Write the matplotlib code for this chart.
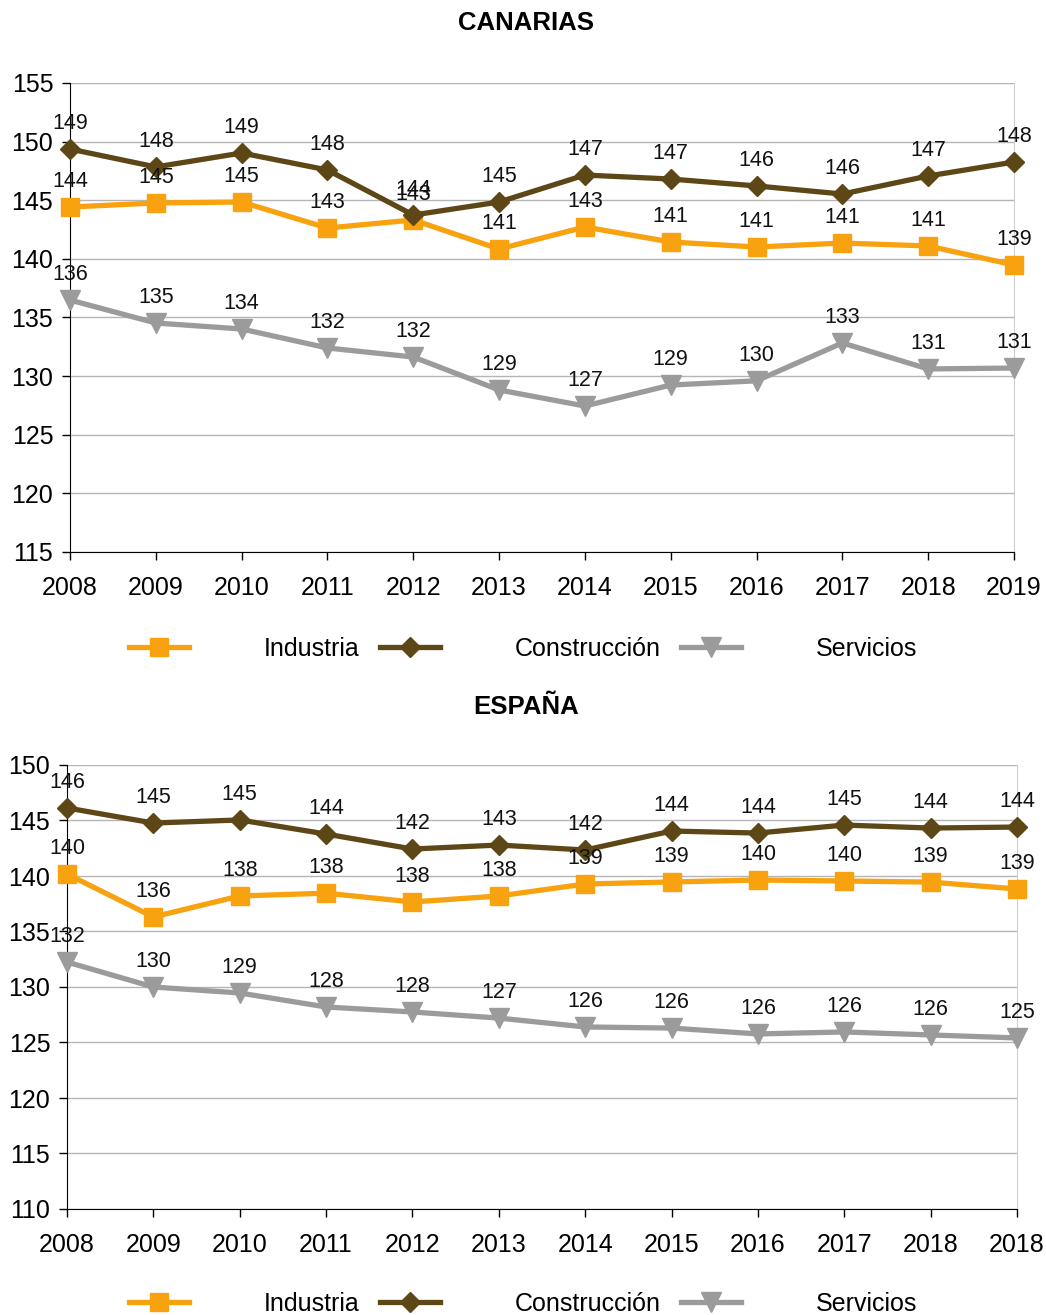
import numpy as np
import matplotlib
matplotlib.use("Agg")
import matplotlib.pyplot as plt

plt.rcParams['font.family'] = ['Liberation Sans', 'DejaVu Sans']

# datos Canarias
years_can = ['2008', '2009', '2010', '2011', '2012', '2013', '2014', '2015', '2016', '2017', '2018', '2019']
ind_can = [144.42, 144.77, 144.85, 142.63, 143.32, 140.84, 142.72, 141.44, 141.01, 141.35, 141.10, 139.48]
con_can = [149.37, 147.84, 149.03, 147.58, 143.74, 144.85, 147.15, 146.81, 146.22, 145.53, 147.07, 148.26]
ser_can = [136.49, 134.53, 134.02, 132.40, 131.63, 128.82, 127.45, 129.24, 129.60, 132.83, 130.61, 130.69]

# datos España (la ultima etiqueta repite 2018 en el original)
years_esp = ['2008', '2009', '2010', '2011', '2012', '2013', '2014', '2015', '2016', '2017', '2018', '2018']
ind_esp = [140.18, 136.31, 138.20, 138.45, 137.66, 138.20, 139.28, 139.46, 139.64, 139.55, 139.45, 138.83]
con_esp = [146.13, 144.77, 145.05, 143.78, 142.43, 142.79, 142.34, 144.05, 143.87, 144.59, 144.32, 144.41]
ser_esp = [132.25, 130.00, 129.46, 128.20, 127.75, 127.20, 126.40, 126.30, 125.77, 125.95, 125.68, 125.41]

c_ind = '#F7A20E'
c_con = '#5E4716'
c_ser = '#9B9B9B'

fig = plt.figure(figsize=(10.46, 13.15), dpi=100)

def panel(rect, title, title_y, years, ind, con, ser, ylim, leg_y):
    ax = fig.add_axes(rect)
    x = np.arange(len(years))
    series = [
        ('Industria', ind, c_ind, 's', 13),
        ('Construcción', con, c_con, 'D', 10),
        ('Servicios', ser, c_ser, 'v', 14),
    ]
    for name, vals, col, mk, ms in series:
        ax.plot(x, vals, color=col, lw=3.8, marker=mk, markersize=ms,
                label=name, clip_on=False, zorder=3)
        for xi, v in zip(x, vals):
            ax.annotate('{:.0f}'.format(v), (xi, v), xytext=(0, 11),
                        textcoords='offset points', ha='center', va='bottom',
                        fontsize=15.5, color='#111111', zorder=4)
    ax.set_xlim(0, len(years) - 1)
    ax.set_ylim(*ylim)
    ax.set_yticks(np.arange(ylim[0], ylim[1] + 1, 5))
    ax.set_xticks(x)
    ax.set_xticklabels(years)
    ax.tick_params(axis='both', labelsize=18, length=6, width=1, color='black')
    ax.tick_params(axis='x', pad=11)
    ax.tick_params(axis='y', pad=6)
    ax.grid(axis='y', color='#b5b5b5', lw=1)
    ax.set_axisbelow(True)
    ax.spines['top'].set_visible(False)
    ax.spines['right'].set_color('#d0d0d0')
    ax.spines['left'].set_color('black')
    ax.spines['bottom'].set_color('black')
    fig.text(0.503, title_y, title, ha='center', va='center',
             fontsize=18.5, fontweight='bold')
    fig.legend(*ax.get_legend_handles_labels(), loc='center',
               bbox_to_anchor=(0.5, leg_y), ncol=3, frameon=False,
               fontsize=18, handlelength=2.4, handletextpad=3.0,
               columnspacing=0.8, numpoints=1)
    return ax

panel([70 / 1046, 1 - 552 / 1315, 944 / 1046, 469 / 1315], 'CANARIAS',
      1 - 23 / 1315, years_can, ind_can, con_can, ser_can, (115, 155),
      1 - 649 / 1315)
panel([67 / 1046, 1 - 1209 / 1315, 950 / 1046, 444 / 1315], 'ESPAÑA',
      1 - 707 / 1315, years_esp, ind_esp, con_esp, ser_esp, (110, 150),
      1 - 1304 / 1315)

plt.savefig('out.png', dpi=100)
